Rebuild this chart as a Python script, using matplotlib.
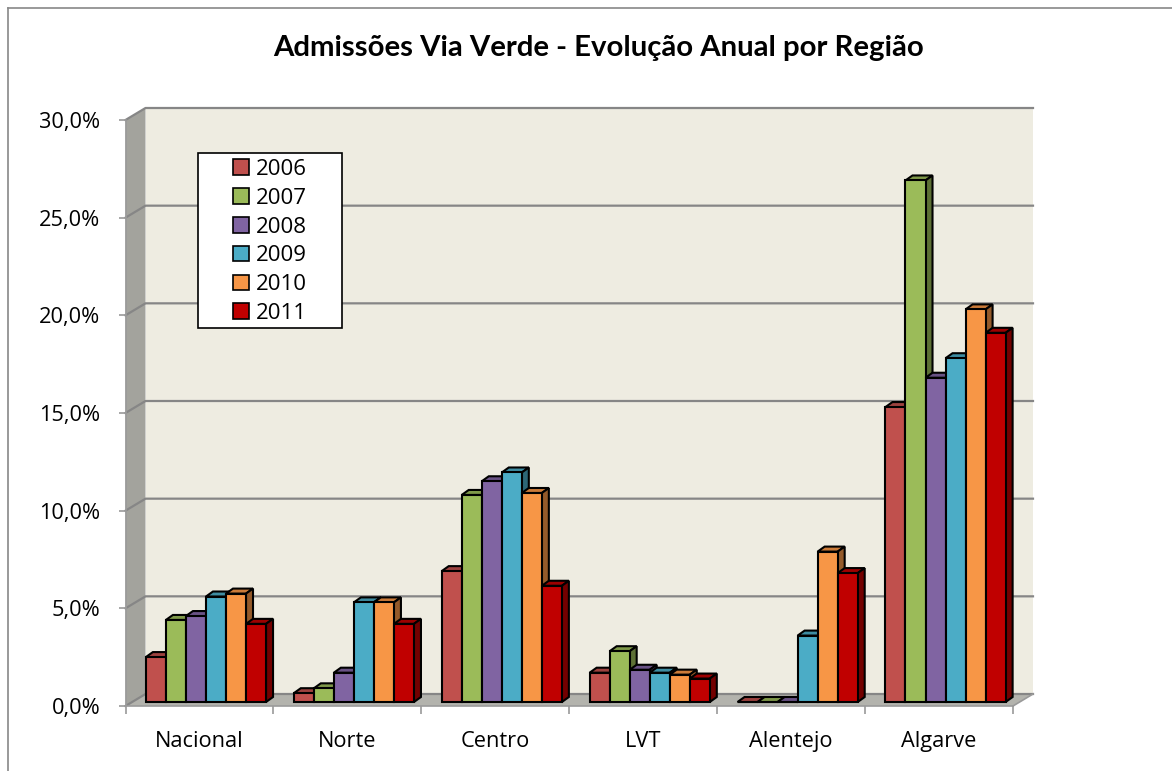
import matplotlib
matplotlib.use("Agg")
import matplotlib.pyplot as plt
from matplotlib.patches import Polygon, Patch, Rectangle
from matplotlib.transforms import Affine2D, IdentityTransform
from matplotlib.lines import Line2D
import numpy as np

categories = ["Nacional", "Norte", "Centro", "LVT", "Alentejo", "Algarve"]
years = ["2006", "2007", "2008", "2009", "2010", "2011"]
v2006 = [2.3, 0.45, 6.7, 1.5, 0.0, 15.1]
v2007 = [4.2, 0.7, 10.6, 2.6, 0.0, 26.7]
v2008 = [4.4, 1.5, 11.3, 1.65, 0.0, 16.6]
v2009 = [5.4, 5.1, 11.75, 1.5, 3.4, 17.6]
v2010 = [5.55, 5.1, 10.7, 1.4, 7.7, 20.1]
v2011 = [4.0, 4.0, 5.95, 1.2, 6.6, 18.9]
series = [v2006, v2007, v2008, v2009, v2010, v2011]
colors = ["#C0504D", "#9BBB59", "#8064A2", "#4BACC6", "#F79646", "#C00000"]
yticks = [0, 5, 10, 15, 20, 25, 30]
ytick_labels = ["0,0%", "5,0%", "10,0%", "15,0%", "20,0%", "25,0%", "30,0%"]
title = "Admissões Via Verde - Evolução Anual por Região"

plt.rcParams['font.family'] = ['Open Sans', 'DejaVu Sans']

W, H = 1172, 771
fig = plt.figure(figsize=(W / 100, H / 100), dpi=100)
fig.patch.set_facecolor("white")

ax = fig.add_axes([125.5 / W, (H - 706) / H, (1013 - 125.5) / W, (706 - 120) / H])
ax.set_xlim(0, len(categories))
ax.set_ylim(0, 30)
ax.patch.set_visible(False)
for s in ax.spines.values():
    s.set_visible(False)

# 3D offsets in pixels (display coords, y up)
WALL_DX, WALL_DY = 20, 12
BAR_DX, BAR_DY = 6.5, 4
DEP_DX, DEP_DY = 7, 5

def px(x, y, dx=0.0, dy=0.0):
    p = ax.transData.transform((x, y))
    return (p[0] + dx, p[1] + dy)

def poly(pts, fc, ec="none", lw=0, z=1):
    p = Polygon(pts, closed=True, facecolor=fc, edgecolor=ec, linewidth=lw,
                transform=IdentityTransform(), clip_on=False, zorder=z)
    ax.add_artist(p)
    return p

ncat = len(categories)
grid_c = "#868686"
# back wall
poly([px(0, 0, WALL_DX, WALL_DY), px(ncat, 0, WALL_DX, WALL_DY),
      px(ncat, 30, WALL_DX, WALL_DY), px(0, 30, WALL_DX, WALL_DY)],
     "#EEECE1", z=0.5)
# left wall
poly([px(0, 0), px(0, 0, WALL_DX, WALL_DY), px(0, 30, WALL_DX, WALL_DY), px(0, 30)],
     "#A3A39D", z=0.6)
# floor
poly([px(0, 0), px(ncat, 0), px(ncat, 0, WALL_DX, WALL_DY), px(0, 0, WALL_DX, WALL_DY)],
     "#B3B3AD", z=0.6)

# gridlines on back wall and left wall
for t in yticks:
    a = px(0, t); b = px(0, t, WALL_DX, WALL_DY); c = px(ncat, t, WALL_DX, WALL_DY)
    ax.add_artist(Line2D([a[0], b[0], c[0]], [a[1], b[1], c[1]], color=grid_c, lw=1.6,
                         transform=IdentityTransform(), clip_on=False, zorder=0.8))
a = px(ncat, 0); b = px(ncat, 0, WALL_DX, WALL_DY)
ax.add_artist(Line2D([a[0], b[0]], [a[1], b[1]], color="#9A9A9A", lw=1.2,
                     transform=IdentityTransform(), clip_on=False, zorder=0.8))
# front axis lines
ax.add_artist(Line2D([0, 0], [0, 30], color="#9A9A9A", lw=1.2, transform=ax.transData,
                     clip_on=False, zorder=0.9))
ax.add_artist(Line2D([0, ncat], [0, 0], color="#9A9A9A", lw=1.2, transform=ax.transData,
                     clip_on=False, zorder=0.9))

# bars
nser = len(series)
bw = 0.1354
x0 = np.arange(ncat) + 0.5
bar_trans = ax.transData + Affine2D().translate(BAR_DX, BAR_DY)

def shade(c, f):
    r, g, b = matplotlib.colors.to_rgb(c)
    return (r * f, g * f, b * f)

for i, (vals, col) in enumerate(zip(series, colors)):
    xs = x0 + (i - (nser - 1) / 2) * bw
    zf = 3 + i * 0.1 + 0.05
    ax.bar(xs, vals, width=bw, color=col, edgecolor="black", linewidth=1.5,
           transform=bar_trans, zorder=zf)
    for xc, v in zip(xs, vals):
        l, r = xc - bw / 2, xc + bw / 2
        poly([px(l, v, BAR_DX, BAR_DY), px(r, v, BAR_DX, BAR_DY),
              px(r, v, BAR_DX + DEP_DX, BAR_DY + DEP_DY), px(l, v, BAR_DX + DEP_DX, BAR_DY + DEP_DY)],
             shade(col, 0.82), ec="black", lw=1.5, z=3 + i * 0.1 + 0.01)
        if v > 0:
            poly([px(r, 0, BAR_DX, BAR_DY), px(r, 0, BAR_DX + DEP_DX, BAR_DY + DEP_DY),
                  px(r, v, BAR_DX + DEP_DX, BAR_DY + DEP_DY), px(r, v, BAR_DX, BAR_DY)],
                 shade(col, 0.6), ec="black", lw=1.5, z=3 + i * 0.1 + 0.01)

# ticks
ax.set_yticks(yticks)
ax.set_yticklabels(ytick_labels, fontsize=15.7)
ax.tick_params(axis="y", length=5, width=1.2, color="#9A9A9A", pad=13)
ax.set_xticks(np.arange(ncat + 1), minor=True)
ax.set_xticks(x0)
ax.set_xticklabels(categories, fontsize=15.7)
ax.tick_params(axis="x", which="major", length=0, pad=18)
ax.tick_params(axis="x", which="minor", length=5.8, width=1.2, color="#9A9A9A")

# title
fig.text(599 / W, 1 - 48 / H, title, fontsize=21.2, fontweight="bold",
         family=["Lato", "DejaVu Sans"], ha="center", va="center")

# legend box + entries
ax.add_artist(Rectangle((198 / W, 1 - 328 / H), (342 - 198) / W, (328 - 153) / H,
                        transform=fig.transFigure, facecolor="white", edgecolor="black",
                        linewidth=1.2, zorder=9, clip_on=False))
handles = [Patch(facecolor=c, edgecolor="black", linewidth=1.2) for c in colors]
leg = ax.legend(handles, years, loc="upper left",
                bbox_to_anchor=(233 / W, 1 - 159 / H), bbox_transform=fig.transFigure,
                fontsize=16, frameon=False, handlelength=0.7,
                handleheight=0.7, handletextpad=0.35, labelspacing=0.35,
                borderpad=0.0, borderaxespad=0)
leg.set_zorder(10)

# outer border (left and top)
fig.add_artist(Line2D([8 / W, 8 / W], [0, 1 - 8 / H], color="#888888", lw=1.2,
                      transform=fig.transFigure))
fig.add_artist(Line2D([8 / W, 1], [1 - 8 / H, 1 - 8 / H], color="#888888", lw=1.2,
                      transform=fig.transFigure))

fig.savefig("out.png", dpi=100)
